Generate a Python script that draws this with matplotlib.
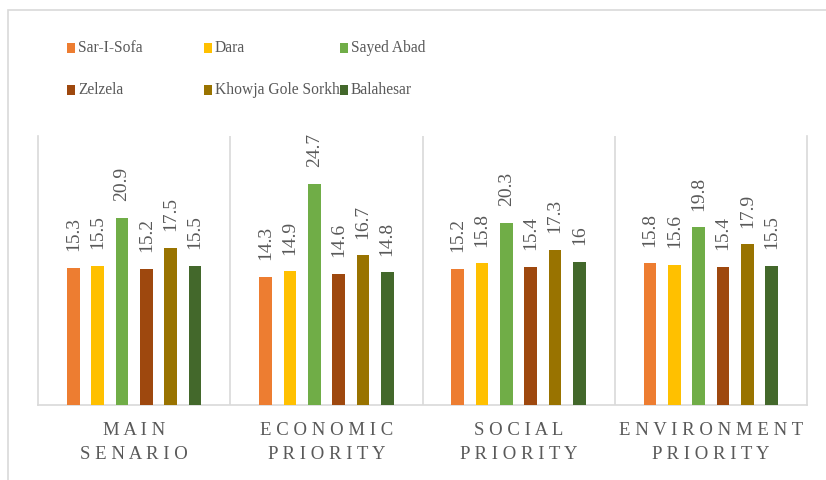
import matplotlib
matplotlib.use("Agg")
import matplotlib.pyplot as plt
from matplotlib.patches import Rectangle
import numpy as np

categories = ["MAIN\nSENARIO", "ECONOMIC\nPRIORITY", "SOCIAL\nPRIORITY", "ENVIRONMENT\nPRIORITY"]
series_names = ["Sar-I-Sofa", "Dara", "Sayed Abad", "Zelzela", "Khowja Gole Sorkh", "Balahesar"]
sar_i_sofa = [15.3, 14.3, 15.2, 15.8]
dara = [15.5, 14.9, 15.8, 15.6]
sayed_abad = [20.9, 24.7, 20.3, 19.8]
zelzela = [15.2, 14.6, 15.4, 15.4]
khowja = [17.5, 16.7, 17.3, 17.9]
balahesar = [15.5, 14.8, 16, 15.5]
series_values = [sar_i_sofa, dara, sayed_abad, zelzela, khowja, balahesar]
colors = ["#ED7D31", "#FFC000", "#70AD47", "#9E480E", "#997300", "#43682B"]

TEXT = "#595959"
GRID = "#D9D9D9"
FONT = "Liberation Serif"
plt.rcParams["font.family"] = [FONT, "DejaVu Serif"]

def spaced(s):
    return "\n".join(" ".join(list(line)) for line in s.split("\n"))

W, H = 826, 480
fig = plt.figure(figsize=(W / 100, H / 100), dpi=100)

# outer border (left/top visible)
fig.add_artist(Rectangle((8 / W, -0.1), 1.2, (480 - 10) / H + 0.1, transform=fig.transFigure,
                         fill=False, edgecolor=GRID, linewidth=1.2))

ax = fig.add_axes([38 / W, (H - 405) / H, (807 - 38) / W, (405 - 136) / H])
ax.set_xlim(-0.5, len(categories) - 0.5)
ax.set_ylim(0, 30)

n = len(series_values)
pitch = 0.1265
bw = 0.066
x = np.arange(len(categories))
for i, (vals, c) in enumerate(zip(series_values, colors)):
    xs = x + (i - (n - 1) / 2) * pitch
    ax.bar(xs, vals, width=bw, color=c, zorder=3)
    for xi, v in zip(xs, vals):
        ax.annotate(f"{v:g}", (xi, v), xytext=(0, 12), textcoords="offset points",
                    rotation=90, ha="center", va="bottom", fontsize=14, color=TEXT)

ax.spines["top"].set_visible(False)
for s in ["left", "right", "bottom"]:
    ax.spines[s].set_color(GRID)
    ax.spines[s].set_linewidth(1.2)
for b in np.arange(0.5, len(categories) - 0.5, 1):
    ax.axvline(b, color=GRID, linewidth=1.2, zorder=1)

ax.set_yticks([])
ax.set_xticks(x)
ax.set_xticklabels([spaced(c) for c in categories], fontsize=13.5, color=TEXT, linespacing=1.55)
ax.tick_params(axis="x", length=0, pad=12)

# legend laid out like the reference (3 columns, 2 rows, row-wise order)
col_x = [67, 204, 340]
row_y = [48, 90]
for k, (name, c) in enumerate(zip(series_names, colors)):
    r, cc = divmod(k, 3)
    mx, my = col_x[cc], row_y[r]
    fig.add_artist(Rectangle((mx / W, (H - my - 5) / H), 8 / W, 10 / H,
                             transform=fig.transFigure, facecolor=c, edgecolor="none"))
    fig.text((mx + 11) / W, (H - my) / H, name, fontsize=11.2, color=TEXT,
             ha="left", va="center")

fig.savefig("out.png", dpi=100)
